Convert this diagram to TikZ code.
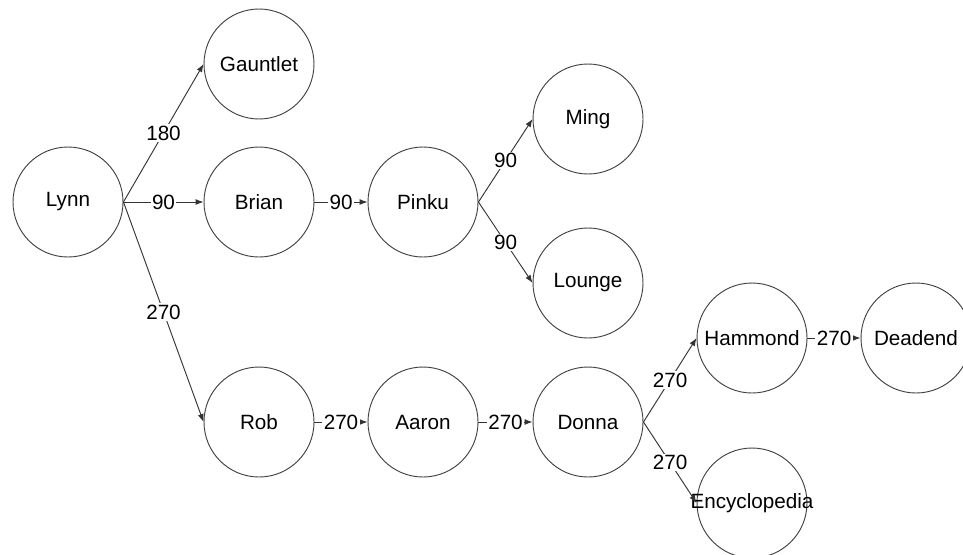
\documentclass[tikz,border=0pt]{standalone}
\usepackage{fontspec}
\setmainfont{Liberation Sans}
\usetikzlibrary{arrows.meta}

\tikzset{
  room/.style={circle, draw=black!75, line width=0.7pt, minimum size=82.5pt,
    inner sep=0pt, font=\fontsize{15.5}{18}\selectfont},
  link/.style={draw=black!80, line width=0.7pt, -{Latex[length=6pt,width=4.5pt]}},
  cost/.style={fill=white, inner sep=1pt, font=\fontsize{15.5}{18}\selectfont},
}

\begin{document}
\begin{tikzpicture}[x=0.75pt,y=-0.75pt]
        \useasboundingbox (0,0) rectangle (963,554);
        % rooms
        \node[room] (lynn) at (68,202) {Lynn};
        \node[room] (gauntlet) at (259,64) {Gauntlet};
        \node[room] (brian) at (259,202) {Brian};
        \node[room] (pinku) at (423,202) {Pinku};
        \node[room] (ming) at (588,119) {Ming};
        \node[room] (lounge) at (588,283) {Lounge};
        \node[room] (rob) at (259,422) {Rob};
        \node[room] (aaron) at (423,422) {Aaron};
        \node[room] (donna) at (588,422) {Donna};
        \node[room] (hammond) at (752,338) {Hammond};
        \node[room] (deadend) at (916,338) {Deadend};
        \node[room] (encyc) at (752,503) {\makebox[0pt]{Encyclopedia}};
        % links, east side to west side
        \foreach \from/\to/\w in {lynn/gauntlet/180, lynn/brian/90, lynn/rob/270,
          brian/pinku/90, pinku/ming/90, pinku/lounge/90,
          rob/aaron/270, aaron/donna/270, donna/hammond/270,
          donna/encyc/270, hammond/deadend/270} {
          \draw[link] (\from.east) -- node[cost] {\w} (\to.west);
        }
      \end{tikzpicture}
\end{document}
